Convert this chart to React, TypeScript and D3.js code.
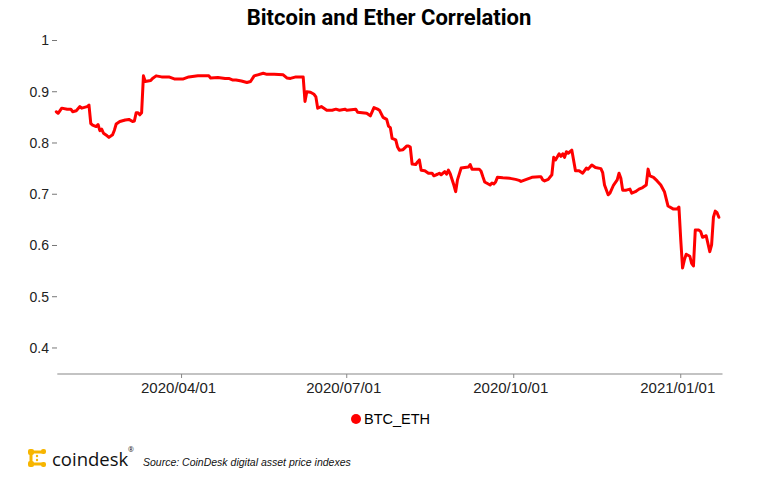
import React from "react";
import * as d3 from "d3";

const seriesName = "BTC_ETH";
const dates: string[] = [
  "2020-01-23","2020-01-24","2020-01-26","2020-01-29","2020-01-31","2020-02-01","2020-02-03","2020-02-05","2020-02-06","2020-02-09",
  "2020-02-10","2020-02-11","2020-02-12","2020-02-14","2020-02-15","2020-02-16","2020-02-17","2020-02-18","2020-02-20","2020-02-21",
  "2020-02-23","2020-02-24","2020-02-25","2020-02-27","2020-03-01","2020-03-03","2020-03-05","2020-03-06","2020-03-07","2020-03-08",
  "2020-03-09","2020-03-10","2020-03-11","2020-03-12","2020-03-15","2020-03-16","2020-03-18","2020-03-21","2020-03-25","2020-03-28",
  "2020-04-02","2020-04-05","2020-04-10","2020-04-16","2020-04-17","2020-04-21","2020-04-25","2020-04-27","2020-04-29","2020-05-01",
  "2020-05-04","2020-05-07","2020-05-09","2020-05-11","2020-05-13","2020-05-16","2020-05-18","2020-05-22","2020-05-27","2020-05-29",
  "2020-05-31","2020-06-03","2020-06-05","2020-06-07","2020-06-08","2020-06-09","2020-06-11","2020-06-13","2020-06-14","2020-06-15",
  "2020-06-17","2020-06-20","2020-06-23","2020-06-25","2020-06-27","2020-06-30","2020-07-01","2020-07-06","2020-07-07","2020-07-12",
  "2020-07-14","2020-07-16","2020-07-18","2020-07-19","2020-07-21","2020-07-23","2020-07-24","2020-07-25","2020-07-26","2020-07-28",
  "2020-07-29","2020-07-30","2020-08-01","2020-08-03","2020-08-04","2020-08-05","2020-08-06","2020-08-08","2020-08-09","2020-08-10",
  "2020-08-11","2020-08-13","2020-08-15","2020-08-17","2020-08-18","2020-08-20","2020-08-21","2020-08-22","2020-08-24","2020-08-25",
  "2020-08-26","2020-08-27","2020-08-29","2020-08-30","2020-08-31","2020-09-02","2020-09-04","2020-09-06","2020-09-07","2020-09-08",
  "2020-09-09","2020-09-12","2020-09-13","2020-09-14","2020-09-15","2020-09-16","2020-09-18","2020-09-19","2020-09-20","2020-09-21",
  "2020-09-22","2020-09-25","2020-09-29","2020-10-02","2020-10-04","2020-10-05","2020-10-08","2020-10-11","2020-10-15","2020-10-16",
  "2020-10-17","2020-10-18","2020-10-20","2020-10-22","2020-10-23","2020-10-24","2020-10-26","2020-10-27","2020-10-28","2020-10-29",
  "2020-10-30","2020-10-31","2020-11-02","2020-11-04","2020-11-06","2020-11-08","2020-11-10","2020-11-11","2020-11-13","2020-11-15",
  "2020-11-18","2020-11-19","2020-11-20","2020-11-22","2020-11-23","2020-11-25","2020-11-27","2020-11-28","2020-11-29","2020-11-30",
  "2020-12-02","2020-12-04","2020-12-05","2020-12-07","2020-12-09","2020-12-11","2020-12-13","2020-12-14","2020-12-15","2020-12-17",
  "2020-12-19","2020-12-21","2020-12-23","2020-12-25","2020-12-28","2020-12-30","2020-12-31","2021-01-01","2021-01-02","2021-01-03",
  "2021-01-04","2021-01-06","2021-01-07","2021-01-08","2021-01-09","2021-01-11","2021-01-12","2021-01-13","2021-01-15","2021-01-17",
  "2021-01-18","2021-01-19","2021-01-20","2021-01-21","2021-01-22"
];
const values: number[] = [
  0.861,0.858,0.868,0.866,0.866,0.861,0.863,0.871,0.868,0.871,
  0.874,0.838,0.835,0.832,0.836,0.824,0.827,0.819,0.814,0.811,
  0.816,0.825,0.837,0.842,0.845,0.846,0.842,0.843,0.859,0.859,
  0.855,0.859,0.931,0.920,0.922,0.926,0.931,0.929,0.929,0.925,
  0.925,0.929,0.931,0.931,0.927,0.928,0.926,0.926,0.923,0.923,
  0.921,0.918,0.920,0.931,0.933,0.936,0.934,0.934,0.933,0.927,
  0.926,0.929,0.929,0.929,0.881,0.900,0.899,0.895,0.890,0.868,
  0.871,0.864,0.864,0.866,0.864,0.866,0.864,0.866,0.860,0.858,
  0.853,0.869,0.866,0.864,0.850,0.846,0.833,0.830,0.809,0.806,
  0.792,0.786,0.787,0.794,0.794,0.792,0.759,0.758,0.763,0.767,
  0.747,0.746,0.741,0.741,0.736,0.739,0.741,0.738,0.744,0.739,
  0.747,0.740,0.718,0.705,0.728,0.751,0.752,0.753,0.758,0.749,
  0.749,0.749,0.745,0.734,0.724,0.722,0.718,0.722,0.720,0.724,
  0.733,0.732,0.731,0.729,0.727,0.725,0.729,0.733,0.734,0.734,
  0.728,0.726,0.729,0.738,0.772,0.767,0.779,0.774,0.779,0.772,
  0.783,0.780,0.786,0.746,0.746,0.741,0.751,0.749,0.757,0.752,
  0.750,0.742,0.718,0.699,0.702,0.718,0.728,0.741,0.731,0.708,
  0.708,0.710,0.702,0.705,0.710,0.713,0.718,0.749,0.736,0.733,
  0.726,0.718,0.705,0.677,0.671,0.671,0.675,0.611,0.556,0.572,
  0.583,0.579,0.565,0.560,0.630,0.630,0.627,0.616,0.619,0.588,
  0.601,0.655,0.667,0.664,0.655
];
const yTicks: number[] = [0.4, 0.5, 0.6, 0.7, 0.8, 0.9, 1];
const xTickDates: string[] = ["2020-04-01", "2020-07-01", "2020-10-01", "2021-01-01"];
const xDomain: string[] = ["2020-01-23", "2021-01-24"];
const title = "Bitcoin and Ether Correlation";
const sourceText = "Source: CoinDesk digital asset price indexes";

const W = 775;
const H = 487;

export default function App() {
  const parse = d3.timeParse("%Y-%m-%d");
  const fmt = d3.timeFormat("%Y/%m/%d");
  const data = dates.map((d, i) => ({ date: parse(d) as Date, value: values[i] }));

  const x = d3
    .scaleTime()
    .domain(xDomain.map((d) => parse(d) as Date))
    .range([56.3, 722.5]);
  const y = d3.scaleLinear().domain([0.35, 1]).range([373.6, 40.5]);

  const line = d3
    .line<{ date: Date; value: number }>()
    .x((d) => x(d.date))
    .y((d) => y(d.value));

  const axisY = 374;
  const tickFont = "'Liberation Sans', Arial, sans-serif";
  const gold = "#f7b500";

  return (
    <svg
      width={W}
      height={H}
      style={{ position: "absolute", left: 0, top: 0, background: "#fff" }}
    >
      <rect width={W} height={H} fill="#fff" />
      <text
        x={389}
        y={25}
        textAnchor="middle"
        fontFamily="Roboto, sans-serif"
        fontWeight={700}
        fontSize={22}
        fill="#000"
      >
        {title}
      </text>

      {yTicks.map((t) => (
        <g key={t} transform={`translate(0,${y(t)})`}>
          <line x1={52} x2={57} stroke="#777" strokeWidth={1} />
          <text
            x={49}
            dy="0.35em"
            textAnchor="end"
            fontFamily={tickFont}
            fontSize={14}
            fill="#222"
          >
            {String(t)}
          </text>
        </g>
      ))}

      <line x1={x.range()[0] + 1} x2={x.range()[1]} y1={axisY} y2={axisY} stroke="#888" strokeWidth={1.2} />
      {xTickDates.map((s) => {
        const d = parse(s) as Date;
        return (
          <g key={s} transform={`translate(${x(d)},${axisY})`}>
            <line y1={0} y2={4} stroke="#888" strokeWidth={1} />
            <text
              x={-3}
              y={19}
              textAnchor="middle"
              fontFamily={tickFont}
              fontSize={15}
              fill="#222"
            >
              {fmt(d)}
            </text>
          </g>
        );
      })}

      <path
        d={line(data) || ""}
        fill="none"
        stroke="#ff0000"
        strokeWidth={3}
        strokeLinejoin="round"
        strokeLinecap="round"
      />

      <circle cx={356} cy={419} r={5} fill="#ff0000" />
      <text x={364} y={424} fontFamily={tickFont} fontSize={14.5} fill="#000">
        {seriesName}
      </text>

      {/* coindesk logo */}
      <g fill={gold}>
        <rect x={28} y={449} width={6} height={6} rx={2} />
        <rect x={31} y={450.5} width={12} height={3} rx={1.5} />
        <rect x={41} y={449} width={5} height={5} rx={2} />
        <rect x={29.5} y={452} width={3} height={12} rx={1.5} />
        <rect x={28} y={461} width={6} height={6} rx={2} />
        <rect x={31} y={462.5} width={12} height={3} rx={1.5} />
        <rect x={41} y={462} width={5} height={5} rx={2} />
        <circle cx={37} cy={456} r={1.2} />
        <circle cx={37} cy={460} r={1.2} />
      </g>
      <text x={52} y={466} fontFamily="'Open Sans', sans-serif" fontSize={18.5} fill="#111">
        coindesk
      </text>
      <text x={128} y={452} fontFamily="'Open Sans', sans-serif" fontSize={7} fill="#111">
        ®
      </text>
      <text
        x={143}
        y={466}
        fontFamily={tickFont}
        fontStyle="italic"
        fontSize={10.5}
        fill="#111"
      >
        {sourceText}
      </text>
    </svg>
  );
}
